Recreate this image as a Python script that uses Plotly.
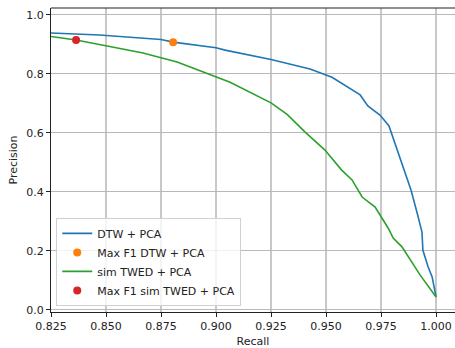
import plotly.graph_objects as go

# DTW + PCA precision-recall curve
dtw_recall = [0.825, 0.847, 0.875, 0.8805, 0.900, 0.9041, 0.925, 0.9427, 0.9527, 0.9655, 0.969,
              0.9745, 0.9786, 0.9827, 0.986, 0.9886, 0.9914, 0.9936, 0.994, 0.9964, 0.9982, 1.0]
dtw_precision = [0.939, 0.932, 0.917, 0.908, 0.889, 0.881, 0.849, 0.817, 0.789, 0.729, 0.692,
                 0.661, 0.624, 0.532, 0.465, 0.407, 0.329, 0.264, 0.203, 0.146, 0.112, 0.044]

# sim TWED + PCA precision-recall curve
twed_recall = [0.825, 0.8364, 0.8505, 0.8668, 0.8823, 0.900, 0.9064, 0.925, 0.9323, 0.9405, 0.9495,
               0.957, 0.9618, 0.9664, 0.9723, 0.9782, 0.9805, 0.9845, 0.9927, 1.0]
twed_precision = [0.927, 0.915, 0.895, 0.871, 0.841, 0.790, 0.772, 0.702, 0.663, 0.603, 0.542,
                  0.475, 0.441, 0.383, 0.349, 0.278, 0.244, 0.214, 0.119, 0.044]

# Max F1 points
maxf1_dtw = ([0.8805], [0.908])
maxf1_twed = ([0.8364], [0.915])

x_ticks = [0.825, 0.850, 0.875, 0.900, 0.925, 0.950, 0.975, 1.000]
y_ticks = [0.0, 0.2, 0.4, 0.6, 0.8, 1.0]

fig = go.Figure()
fig.add_trace(go.Scatter(x=dtw_recall, y=dtw_precision, mode="lines", name="DTW + PCA",
                         line=dict(color="#1f77b4", width=1.6)))
fig.add_trace(go.Scatter(x=maxf1_dtw[0], y=maxf1_dtw[1], mode="markers", name="Max F1 DTW + PCA",
                         marker=dict(color="#ff7f0e", size=8)))
fig.add_trace(go.Scatter(x=twed_recall, y=twed_precision, mode="lines", name="sim TWED + PCA",
                         line=dict(color="#2ca02c", width=1.6)))
fig.add_trace(go.Scatter(x=maxf1_twed[0], y=maxf1_twed[1], mode="markers", name="Max F1 sim TWED + PCA",
                         marker=dict(color="#d62728", size=8)))

font = dict(family="DejaVu Sans", size=11, color="#222222")

fig.update_layout(
    width=455, height=348,
    margin=dict(l=51, r=0, t=8, b=36),
    plot_bgcolor="white", paper_bgcolor="white",
    font=font,
    showlegend=True,
    legend=dict(x=0.013, y=0.02, xanchor="left", yanchor="bottom",
                bgcolor="rgba(255,255,255,0.8)", bordercolor="#d0d0d0", borderwidth=1,
                font=dict(family="DejaVu Sans", size=11, color="#222222"),
                tracegroupgap=0, itemwidth=30),
    xaxis=dict(range=[0.825, 1.0086], tickvals=x_ticks, ticktext=[f"{v:.3f}" for v in x_ticks],
               showgrid=True, gridcolor="#c8c8c8", gridwidth=1.5,
               showline=True, linecolor="#222222", linewidth=1.2,
               ticks="outside", ticklen=4, tickcolor="#222222",
               zeroline=False,
               title=dict(text="Recall", font=dict(family="DejaVu Sans", size=11), standoff=5)),
    yaxis=dict(range=[-0.0068, 1.0237], tickvals=y_ticks, ticktext=[f"{v:.1f}" for v in y_ticks],
               showgrid=True, gridcolor="#b8b8b8", gridwidth=1,
               showline=True, linecolor="#222222", linewidth=1.2,
               ticks="outside", ticklen=4, tickcolor="#222222",
               zeroline=False,
               title=dict(text="Precision", font=dict(family="DejaVu Sans", size=11), standoff=6)),
    shapes=[dict(type="line", xref="paper", yref="paper", x0=0, x1=1, y0=1, y1=1,
                 line=dict(color="#222222", width=1.2))],
)

fig.write_html("out.html")
